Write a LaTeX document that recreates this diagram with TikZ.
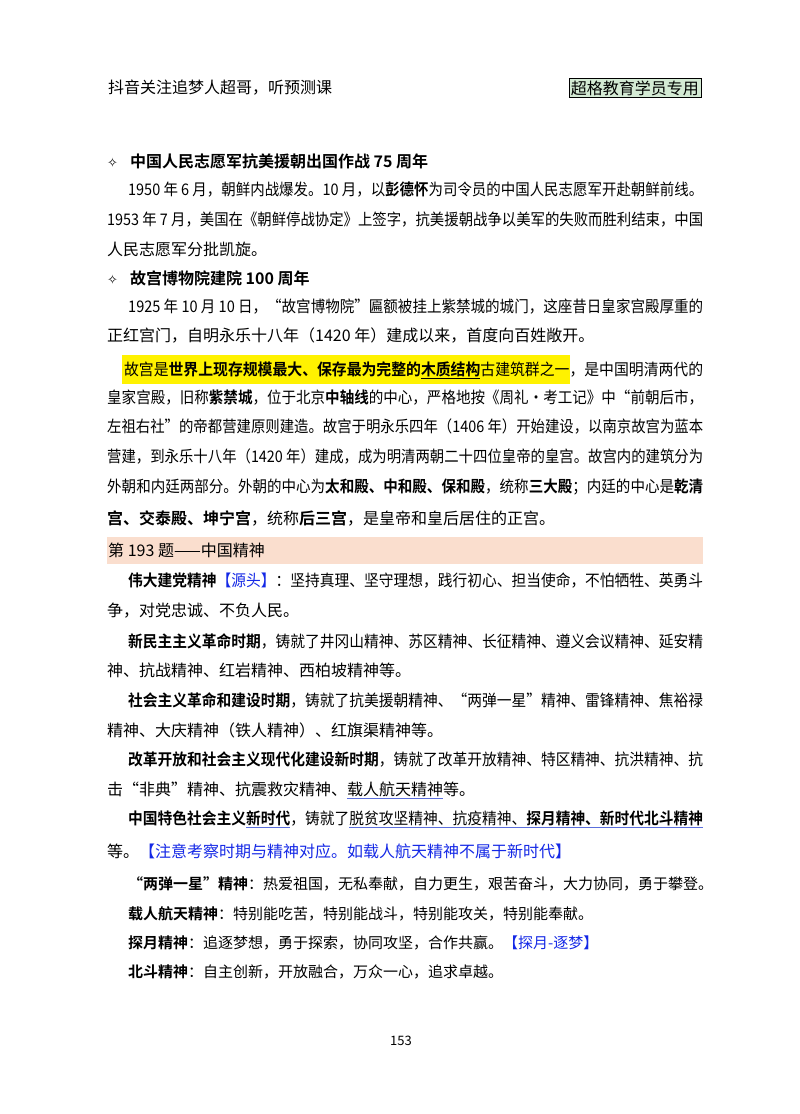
\documentclass[tikz,border=0pt]{standalone}
\usepackage{fontspec}
\usepackage{graphicx}
\setmainfont{Noto Sans CJK SC}[BoldFont={* Bold}]
\newfontfamily\dejavu{DejaVu Sans}
\definecolor{ulblue}{RGB}{90,110,220}
\definecolor{lnkblue}{RGB}{20,40,230}
\definecolor{band}{RGB}{250,222,206}
\definecolor{tag}{RGB}{212,234,212}
\newcommand{\bul}[1]{\leavevmode\rlap{\color{ulblue}\underline{\phantom{#1}}}#1}
\newcommand{\dia}{{\dejavu\fontsize{13}{15}\selectfont ✧}}
\newcommand{\fw}[2]{\resizebox{#1}{\height}{#2}}
\setlength{\fboxsep}{0pt}
\begin{document}
\begin{tikzpicture}[x=1pt,y=-1pt,
  ln/.style={anchor=west,inner sep=0pt,font=\fontsize{16}{18}\selectfont},
  sm/.style={anchor=west,inner sep=0pt,font=\fontsize{15}{18}\selectfont}]
\useasboundingbox (0,0) rectangle (800,1114);
\fill[white] (0,0) rectangle (800,1114);
\fill[band] (107,537) rectangle (703,564);
\node[ln] (h1) at (108,88) {抖音关注追梦人超哥，听预测课};
\node[ln,draw,fill=tag,inner sep=2pt,anchor=east] (h2) at (701,88) {超格教育学员专用};
\node[ln] (a1) at (107,161) {\dia\hspace{12pt}\textbf{中国人民志愿军抗美援朝出国作战 75 周年}};
\node[ln] (a2) at (128,190) {\fw{575pt}{1950 年 6 月，朝鲜内战爆发。10 月，以\textbf{彭德怀}为司令员的中国人民志愿军开赴朝鲜前线。}};
\node[ln] (a3) at (107,220) {\fw{596pt}{1953 年 7 月，美国在《朝鲜停战协定》上签字，抗美援朝战争以美军的失败而胜利结束，中国}};
\node[ln] (a4) at (107,249) {人民志愿军分批凯旋。};
\node[ln] (b1) at (107,278) {\dia\hspace{12pt}\textbf{故宫博物院建院 100 周年}};
\node[ln] (b2) at (128,307) {\fw{575pt}{1925 年 10 月 10 日，“故宫博物院”匾额被挂上紫禁城的城门，这座昔日皇家宫殿厚重的}};
\node[ln] (b3) at (107,336) {正红宫门，自明永乐十八年（1420 年）建成以来，首度向百姓敞开。};
\node[ln] (c1) at (122,369) {\fw{581pt}{\colorbox{yellow}{\rule[-8pt]{0pt}{29pt}\hspace{2pt}故宫是\textbf{世界上现存规模最大、保存最为完整的\underline{木质结构}}古建筑群之一}，是中国明清两代的}};
\node[ln] (c2) at (107,398) {\fw{596pt}{皇家宫殿，旧称\textbf{紫禁城}，位于北京\textbf{中轴线}的中心，严格地按《周礼·考工记》中“前朝后市，}};
\node[ln] (c3) at (107,427) {\fw{596pt}{左祖右社”的帝都营建原则建造。故宫于明永乐四年（1406 年）开始建设，以南京故宫为蓝本}};
\node[ln] (c4) at (107,457) {\fw{596pt}{营建，到永乐十八年（1420 年）建成，成为明清两朝二十四位皇帝的皇宫。故宫内的建筑分为}};
\node[ln] (c5) at (107,487) {\fw{596pt}{外朝和内廷两部分。外朝的中心为\textbf{太和殿、中和殿、保和殿}，统称\textbf{三大殿}；内廷的中心是\textbf{乾清}}};
\node[ln] (c6) at (107,518) {\textbf{宫、交泰殿、坤宁宫}，统称\textbf{后三宫}，是皇帝和皇后居住的正宫。};
\node[ln] (d0) at (108,550) {第 193 题——中国精神};
\node[ln] (d1) at (128,581) {\fw{575pt}{\textbf{伟大建党精神}\textcolor{lnkblue}{【源头】}：坚持真理、坚守理想，践行初心、担当使命，不怕牺牲、英勇斗}};
\node[ln] (d2) at (107,611) {争，对党忠诚、不负人民。};
\node[ln] (d3) at (128,641) {\fw{575pt}{\textbf{新民主主义革命时期}，铸就了井冈山精神、苏区精神、长征精神、遵义会议精神、延安精}};
\node[ln] (d4) at (107,670) {神、抗战精神、红岩精神、西柏坡精神等。};
\node[ln] (d5) at (128,700) {\fw{575pt}{\textbf{社会主义革命和建设时期}，铸就了抗美援朝精神、“两弹一星”精神、雷锋精神、焦裕禄}};
\node[ln] (d6) at (107,730) {精神、大庆精神（铁人精神）、红旗渠精神等。};
\node[ln] (d7) at (128,760) {\fw{575pt}{\textbf{改革开放和社会主义现代化建设新时期}，铸就了改革开放精神、特区精神、抗洪精神、抗}};
\node[ln] (d8) at (107,790) {击“非典”精神、抗震救灾精神、\bul{载人航天精神}等。};
\node[ln] (d9) at (128,819) {\fw{575pt}{\textbf{中国特色社会主义\bul{新时代}}，铸就了\bul{脱贫攻坚精神、抗疫精神、\textbf{探月精神、新时代北斗精神}}}};
\node[ln] (d10) at (107,851) {等。\textcolor{lnkblue}{【注意考察时期与精神对应。如载人航天精神不属于新时代】}};
\node[sm] (e1) at (128,884) {\textbf{“两弹一星”精神}：热爱祖国，无私奉献，自力更生，艰苦奋斗，大力协同，勇于攀登。};
\node[sm] (e2) at (128,914) {\textbf{载人航天精神}：特别能吃苦，特别能战斗，特别能攻关，特别能奉献。};
\node[sm] (e3) at (128,943) {\textbf{探月精神}：追逐梦想，勇于探索，协同攻坚，合作共赢。\textcolor{lnkblue}{【探月-逐梦】}};
\node[sm] (e4) at (128,972) {\textbf{北斗精神}：自主创新，开放融合，万众一心，追求卓越。};
\node[anchor=center,inner sep=0pt,font=\fontsize{13}{15}\selectfont] (pg) at (401,1041) {153};
\end{tikzpicture}
\end{document}
